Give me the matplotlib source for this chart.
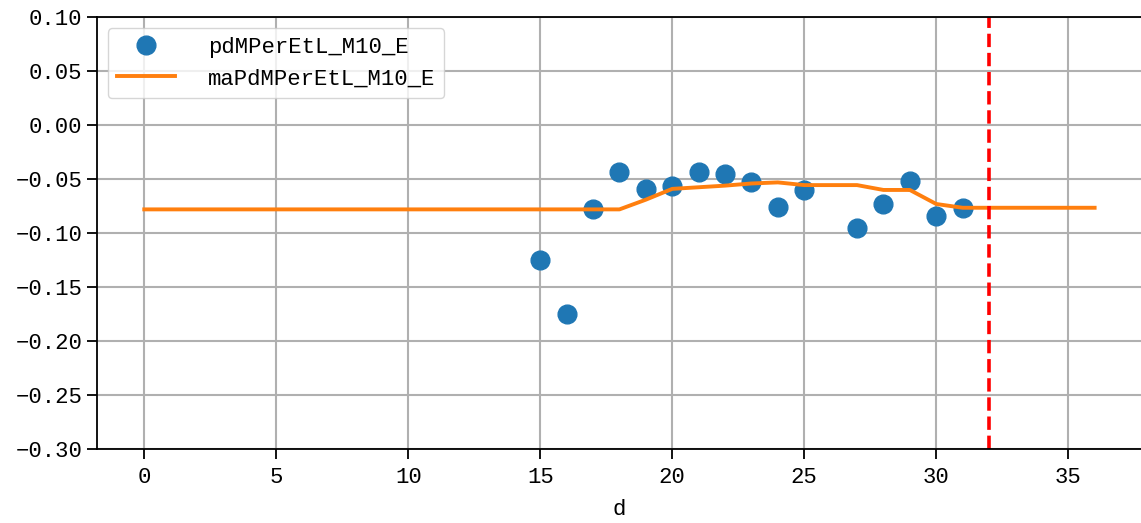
import numpy as np
import matplotlib
matplotlib.use("Agg")
import matplotlib.pyplot as plt

plt.rcParams['font.family'] = ['Liberation Mono', 'DejaVu Sans Mono', 'DejaVu Sans']
plt.rcParams['axes.unicode_minus'] = True

days = list(range(0, 37))
pd_days = [15, 16, 17, 18, 19, 20, 21, 22, 23, 24, 25, 27, 28, 29, 30, 31]
pd_vals = [-0.125, -0.175, -0.078, -0.043, -0.059, -0.056, -0.043, -0.045,
           -0.053, -0.076, -0.060, -0.095, -0.073, -0.052, -0.084, -0.077]
ma_vals = [-0.078] * 19 + [-0.069, -0.059, -0.0575, -0.056, -0.054, -0.053,
                           -0.0555, -0.0555, -0.0555, -0.060, -0.060, -0.073] + [-0.0765] * 6
cutoff_day = 32
yticks = [-0.30, -0.25, -0.20, -0.15, -0.10, -0.05, 0.00, 0.05, 0.10]
ytick_labels = ['\u22120.30', '\u22120.25', '\u22120.20', '\u22120.15', '\u22120.10',
                '\u22120.05', '0.00', '0.05', '0.10']

fig = plt.figure(figsize=(11.41, 5.23), dpi=100)
ax = fig.add_axes([0.0848, 0.1415, 0.9162, 0.8255])

ax.plot(pd_days, pd_vals, 'o', color='#1f77b4', markersize=13.5, label='pdMPerEtL_M10_E')
ax.plot(days, ma_vals, '-', color='#ff7f0e', linewidth=2.8, label='maPdMPerEtL_M10_E')
ax.axvline(cutoff_day, color='red', linestyle='--', linewidth=2.6)

ax.set_xlim(-1.8, 37.8)
ax.set_ylim(-0.30, 0.10)
ax.set_yticks(yticks)
ax.set_yticklabels(ytick_labels)
ax.set_xticks(range(0, 36, 5))
ax.grid(True, color='#b0b0b0', linewidth=1.5)
ax.tick_params(labelsize=16, width=1.3, length=7)
ax.tick_params(axis='x', pad=6)
for s in ax.spines.values():
    s.set_linewidth(1.3)
ax.set_xlabel('d', fontsize=16, labelpad=8)
ax.legend(loc='upper left', fontsize=16, handlelength=2.6, handletextpad=1.5,
          borderpad=0.4, borderaxespad=0.5, labelspacing=0.45, framealpha=0.8)

fig.savefig('out.png', dpi=100)
